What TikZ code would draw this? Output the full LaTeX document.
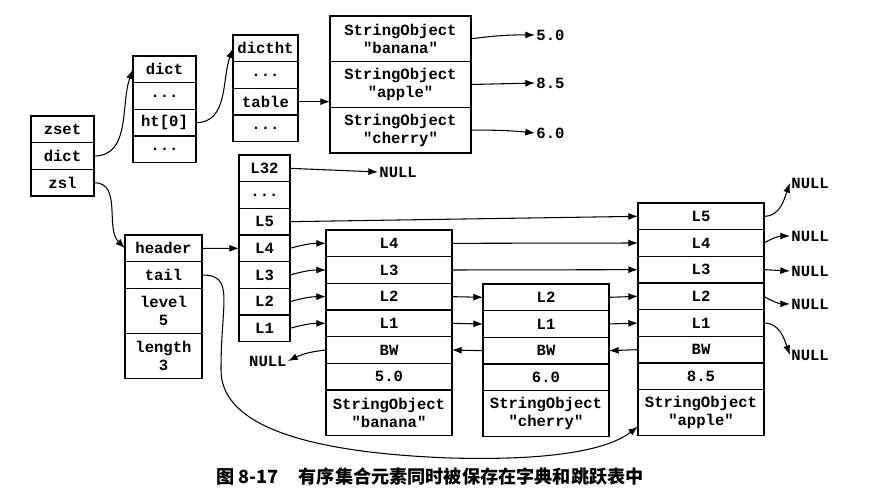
\documentclass[tikz,border=0pt]{standalone}
\usepackage{fontspec}
\setmonofont{Liberation Mono}
\newfontfamily\cjk{Noto Sans CJK SC}
\usetikzlibrary{arrows.meta,positioning}

\begin{document}
\begin{tikzpicture}[x=0.03cm,y=0.03cm,>={Latex[length=2.9mm,width=2.1mm]},
  cell/.style={draw,line width=1.3pt,outer sep=0pt,inner sep=1pt,minimum height=0.8cm,font=\ttfamily\bfseries\fontsize{13.3}{15.5}\selectfont},
  tallcell/.style={cell,minimum height=1.37cm,align=center},
  plain/.style={inner sep=1pt,font=\ttfamily\bfseries\fontsize{13.3}{15.5}\selectfont},
  link/.style={->,line width=0.9pt}]
\useasboundingbox (0,0) rectangle (882,501);

% zset
\node[cell,minimum width=1.89cm,anchor=north west] (zset) at (31,385) {zset};
\node[cell,minimum width=1.89cm,below=0pt of zset] (zdict) {dict};
\node[cell,minimum width=1.89cm,below=0pt of zdict] (zsl) {zsl};

% dict
\node[cell,minimum width=1.89cm,anchor=north west] (d0) at (133,445) {dict};
\node[cell,minimum width=1.89cm,below=0pt of d0] (d1) {...};
\node[cell,minimum width=1.89cm,below=0pt of d1] (dht) {ht[0]};
\node[cell,minimum width=1.89cm,below=0pt of dht] (d3) {...};

% dictht
\node[cell,minimum width=1.95cm,anchor=north west] (t0) at (233,466) {dictht};
\node[cell,minimum width=1.95cm,below=0pt of t0] (t1) {...};
\node[cell,minimum width=1.95cm,below=0pt of t1] (ttable) {table};
\node[cell,minimum width=1.95cm,below=0pt of ttable] (t3) {...};

% dict entries
\node[tallcell,minimum width=4.23cm,anchor=north west] (so1) at (330,485) {StringObject\\"banana"};
\node[tallcell,minimum width=4.23cm,below=0pt of so1] (so2) {StringObject\\"apple"};
\node[tallcell,minimum width=4.23cm,below=0pt of so2] (so3) {StringObject\\"cherry"};
\node[plain,anchor=west] (v1) at (535,466) {5.0};
\node[plain,anchor=west] (v2) at (535,418) {8.5};
\node[plain,anchor=west] (v3) at (535,368) {6.0};

% zskiplist
\node[cell,minimum width=2.31cm,anchor=north west] (hdr) at (125,266) {header};
\node[cell,minimum width=2.31cm,below=0pt of hdr] (tail) {tail};
\node[tallcell,minimum width=2.31cm,minimum height=1.35cm,below=0pt of tail] (level) {level\\5};
\node[tallcell,minimum width=2.31cm,minimum height=1.35cm,below=0pt of level] (length) {length\\3};

% header levels
\node[cell,minimum width=1.53cm,anchor=north west] (hl32) at (239,346) {L32};
\node[cell,minimum width=1.53cm,below=0pt of hl32] (hdots) {...};
\node[cell,minimum width=1.53cm,below=0pt of hdots] (hl5) {L5};
\node[cell,minimum width=1.53cm,below=0pt of hl5] (hl4) {L4};
\node[cell,minimum width=1.53cm,below=0pt of hl4] (hl3) {L3};
\node[cell,minimum width=1.53cm,below=0pt of hl3] (hl2) {L2};
\node[cell,minimum width=1.53cm,below=0pt of hl2] (hl1) {L1};
\node[plain,anchor=west] (n32) at (378,329) {NULL};
\node[plain,anchor=east] (nbw) at (288,140) {NULL};

% node banana
\node[cell,minimum width=3.78cm,anchor=north west] (a4) at (326,271) {L4};
\node[cell,minimum width=3.78cm,below=0pt of a4] (a3) {L3};
\node[cell,minimum width=3.78cm,below=0pt of a3] (a2) {L2};
\node[cell,minimum width=3.78cm,below=0pt of a2] (a1) {L1};
\node[cell,minimum width=3.78cm,below=0pt of a1] (abw) {BW};
\node[cell,minimum width=3.78cm,below=0pt of abw] (ascore) {5.0};
\node[tallcell,minimum width=3.78cm,below=0pt of ascore] (aobj) {StringObject\\"banana"};

% node cherry
\node[cell,minimum width=3.78cm,anchor=north west] (b2) at (483,217) {L2};
\node[cell,minimum width=3.78cm,below=0pt of b2] (b1) {L1};
\node[cell,minimum width=3.78cm,below=0pt of b1] (bbw) {BW};
\node[cell,minimum width=3.78cm,below=0pt of bbw] (bscore) {6.0};
\node[tallcell,minimum width=3.78cm,below=0pt of bscore] (bobj) {StringObject\\"cherry"};

% node apple
\node[cell,minimum width=3.78cm,anchor=north west] (c5) at (638,298) {L5};
\node[cell,minimum width=3.78cm,below=0pt of c5] (c4) {L4};
\node[cell,minimum width=3.78cm,below=0pt of c4] (c3) {L3};
\node[cell,minimum width=3.78cm,below=0pt of c3] (c2) {L2};
\node[cell,minimum width=3.78cm,below=0pt of c2] (c1) {L1};
\node[cell,minimum width=3.78cm,below=0pt of c1] (cbw) {BW};
\node[cell,minimum width=3.78cm,below=0pt of cbw] (cscore) {8.5};
\node[tallcell,minimum width=3.78cm,below=0pt of cscore] (cobj) {StringObject\\"apple"};
\node[plain,anchor=west] (nc5) at (790,318) {NULL};
\node[plain,anchor=west] (nc4) at (790,265) {NULL};
\node[plain,anchor=west] (nc3) at (790,230) {NULL};
\node[plain,anchor=west] (nc2) at (790,197) {NULL};
\node[plain,anchor=west] (nc1) at (790,146) {NULL};

% dict side
\draw[link] (zdict.east) to[out=0,in=250] (d0.west);
\draw[link] (dht.east) to[out=0,in=250] (t0.west);
\draw[link] (ttable.east) -- (ttable.east -| so2.west);
\draw[link] (so1.east) to[bend left=4] (v1.west);
\draw[link] (so2.east) -- (v2.west);
\draw[link] (so3.east) to[bend left=3] (v3.west);

% skiplist side
\draw[link] (zsl.east) to[out=0,in=135] (hdr.west);
\draw[link] (hdr.east) -- (hl4.west);
\draw[link] (hl32.east) -- (n32.west);
\draw[link] (hl5.east) -- (c5.west);
\draw[link] (hl4.east) to[bend left=8] (a4.west);
\draw[link] (hl3.east) to[bend left=8] (a3.west);
\draw[link] (hl2.east) to[bend left=8] (a2.west);
\draw[link] (hl1.east) to[bend left=8] (a1.west);
\draw[link] (a4.east) -- (c4.west);
\draw[link] (a3.east) -- (c3.west);
\draw[link] (a2.east) -- (b2.west);
\draw[link] (a1.east) -- (b1.west);
\draw[link] (b2.east) -- (c2.west);
\draw[link] (b1.east) -- (c1.west);
\draw[link] (abw.west) to[bend right=10] (nbw.east);
\draw[link] (bbw.west) -- (abw.east);
\draw[link] (cbw.west) -- (bbw.east);
\draw[link] (c5.east) to[out=0,in=250] (nc5.west);
\draw[link] (c4.east) to[bend left=15] (nc4.west);
\draw[link] (c3.east) -- (nc3.west);
\draw[link] (c2.east) to[bend right=15] (nc2.west);
\draw[link] (c1.east) to[out=0,in=110] (nc1.west);
\draw[link] (tail.east) .. controls (235,226) and (221,200) .. (221,131)
  .. controls (221,81) and (290,49) .. (450,43)
  .. controls (560,40) and (610,53) .. ([yshift=-12pt]cobj.west);

% caption
\node[font=\cjk\bfseries\fontsize{15.5}{18}\selectfont] (cap) at (430,24) {图 8-17\hspace{1.1em}有序集合元素同时被保存在字典和跳跃表中};
\end{tikzpicture}
\end{document}
